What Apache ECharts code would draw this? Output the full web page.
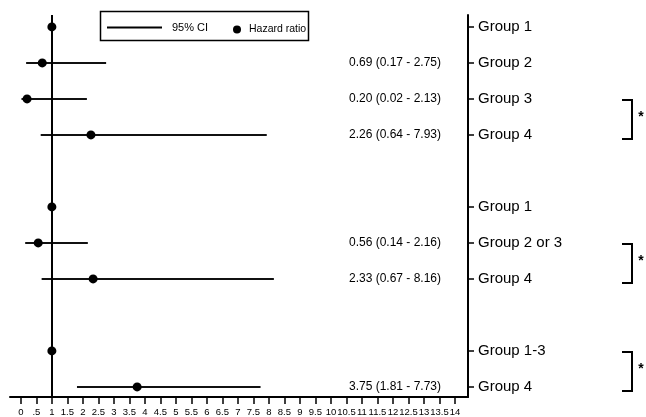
<!DOCTYPE html>
<html>
<head>
<meta charset="utf-8">
<script src="https://cdn.jsdelivr.net/npm/echarts@6/dist/echarts.min.js"></script>
<style>html,body{margin:0;padding:0;background:#fff}#c{width:646px;height:417px}</style>
</head>
<body>
<div id="c"></div>
<script>
// ---- data ----
const rowPos = [0, 1, 2, 3, 5, 6, 7, 9, 10];
const rowLabels = ['Group 1', 'Group 2', 'Group 3', 'Group 4', 'Group 1', 'Group 2 or 3', 'Group 4', 'Group 1-3', 'Group 4'];
const hazardRatio = [1, 0.69, 0.20, 2.26, 1, 0.56, 2.33, 1, 3.75];
const ciLower = [null, 0.17, 0.02, 0.64, null, 0.14, 0.67, null, 1.81];
const ciUpper = [null, 2.75, 2.13, 7.93, null, 2.16, 8.16, null, 7.73];
const xTickValues = [0, 0.5, 1, 1.5, 2, 2.5, 3, 3.5, 4, 4.5, 5, 5.5, 6, 6.5, 7, 7.5, 8, 8.5, 9, 9.5, 10, 10.5, 11, 11.5, 12, 12.5, 13, 13.5, 14];
const xTickLabels = ['0', '.5', '1', '1.5', '2', '2.5', '3', '3.5', '4', '4.5', '5', '5.5', '6', '6.5', '7', '7.5', '8', '8.5', '9', '9.5', '10', '10.5', '11', '11.5', '12', '12.5', '13', '13.5', '14'];
const bracketPairs = [[2, 3], [6, 7], [9, 10]];

// ---- derived ----
const ciData = [];
const annotData = [];
rowPos.forEach((r, i) => {
  if (ciLower[i] != null) {
    ciData.push([ciLower[i], ciUpper[i], r]);
    annotData.push([r, hazardRatio[i].toFixed(2) + ' (' + ciLower[i].toFixed(2) + ' - ' + ciUpper[i].toFixed(2) + ')']);
  }
});
const hrData = rowPos.map((r, i) => [hazardRatio[i], r]);
const labelMap = {};
rowPos.forEach((r, i) => { labelMap[r] = rowLabels[i]; });

const FONT = 'Liberation Sans, Arial, sans-serif';
const chart = echarts.init(document.getElementById('c'), null, { renderer: 'canvas' });

chart.setOption({
  animation: false,
  backgroundColor: '#fff',
  textStyle: { fontFamily: FONT, color: '#000' },
  grid: { left: 10, top: 15, width: 458, height: 382, containLabel: false },
  legend: [
    {
      data: [{ name: '95% CI', icon: 'path://M0,0H60V2H0Z' }],
      left: 107, top: 22, padding: 0,
      itemWidth: 55, itemHeight: 12,
      textStyle: { fontSize: 11, color: '#000', fontFamily: FONT, padding: [0, 0, 0, 5] },
      selectedMode: false
    },
    {
      data: [{ name: 'Hazard ratio', icon: 'circle', itemStyle: { color: '#000', opacity: 1 } }],
      left: 233, top: 24, padding: 0,
      itemWidth: 8, itemHeight: 8,
      textStyle: { fontSize: 10.5, color: '#000', fontFamily: FONT, padding: [0, 0, 0, 3] },
      selectedMode: false
    }
  ],
  graphic: [
    { type: 'rect', shape: { x: 100.5, y: 11.5, width: 208, height: 29 },
      style: { fill: 'none', stroke: '#000', lineWidth: 1.5 }, silent: true }
  ],
  xAxis: {
    type: 'value', min: -0.35, max: 14.42,
    axisLine: { show: true, onZero: false, lineStyle: { color: '#000', width: 2 } },
    axisTick: { show: true, length: 7, customValues: xTickValues, lineStyle: { color: '#000', width: 1.5 } },
    axisLabel: {
      customValues: xTickValues, fontSize: 9.5, color: '#000', margin: 10, fontFamily: FONT,
      showMinLabel: true, showMaxLabel: true, hideOverlap: false,
      formatter: (v) => { const i = xTickValues.indexOf(v); return i >= 0 ? xTickLabels[i] : ''; }
    },
    splitLine: { show: false }
  },
  yAxis: {
    type: 'value', inverse: true, min: -0.33, max: 10.28, position: 'right',
    axisLine: { show: true, onZero: false, lineStyle: { color: '#000', width: 2 } },
    axisTick: { show: true, inside: false, length: 6, customValues: rowPos, lineStyle: { color: '#000', width: 1.5 } },
    axisLabel: {
      customValues: rowPos, fontSize: 15, color: '#000', margin: 10, fontFamily: FONT,
      showMinLabel: true, showMaxLabel: true,
      formatter: (v) => labelMap[v] || ''
    },
    splitLine: { show: false }
  },
  series: [
    {
      name: '95% CI', type: 'custom', data: ciData,
      encode: { x: [0, 1], y: 2 },
      itemStyle: { color: '#000' },
      renderItem: (params, api) => {
        const p1 = api.coord([api.value(0), api.value(2)]);
        const p2 = api.coord([api.value(1), api.value(2)]);
        return { type: 'line', shape: { x1: p1[0], y1: p1[1], x2: p2[0], y2: p2[1] },
                 style: { stroke: '#111', lineWidth: 2 } };
      },
      z: 2
    },
    {
      name: 'Hazard ratio', type: 'scatter', data: hrData,
      symbol: 'circle', symbolSize: 9,
      itemStyle: { color: '#000', opacity: 1 },
      z: 3,
      markLine: {
        silent: true, symbol: 'none', animation: false,
        label: { show: false },
        lineStyle: { color: '#000', width: 2, type: 'solid' },
        data: [{ xAxis: 1 }]
      }
    },
    {
      name: 'annot', type: 'custom', data: annotData,
      encode: { x: 0, y: 0 },
      renderItem: (params, api) => {
        const row = api.value(0);
        const p = api.coord([13.55, row]);
        return { type: 'text', x: p[0], y: p[1],
                 style: { text: annotData[params.dataIndex][1], fill: '#000', font: '12px ' + FONT,
                          align: 'right', verticalAlign: 'middle' } };
      },
      clip: false, z: 4
    },
    {
      name: 'brackets', type: 'custom', data: bracketPairs,
      encode: { x: 0, y: 1 },
      clip: false,
      renderItem: (params, api) => {
        const yTop = api.coord([0, api.value(0)])[1] + 1;
        const yBot = api.coord([0, api.value(1)])[1] + 4;
        return { type: 'group', children: [
          { type: 'polyline', shape: { points: [[622, yTop], [632, yTop], [632, yBot], [622, yBot]] },
            style: { stroke: '#000', lineWidth: 2, fill: null } },
          { type: 'text', x: 641, y: (yTop + yBot) / 2 - 2,
            style: { text: '*', fill: '#000', font: 'bold 14px ' + FONT, align: 'center', verticalAlign: 'middle' } }
        ] };
      }
    }
  ]
});
</script>
</body>
</html>
